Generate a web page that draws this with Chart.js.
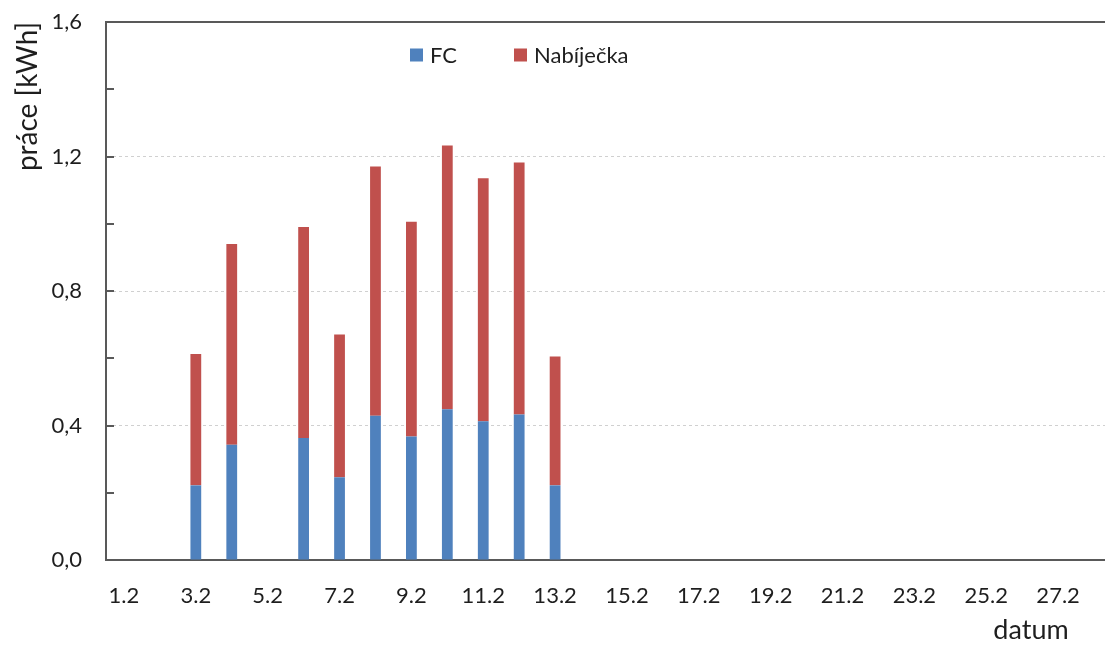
<!DOCTYPE html>
<html lang="cs">
<head>
<meta charset="utf-8">
<title>Práce FC a nabíječky</title>
<script src="https://cdn.jsdelivr.net/npm/chart.js@4.4.1/dist/chart.umd.min.js"></script>
<style>
  html, body { margin: 0; padding: 0; background: #ffffff; overflow: hidden; }
  #wrap { width: 1120px; height: 646px; }
</style>
</head>
<body>
<div id="wrap"><canvas id="c" width="1120" height="646"></canvas></div>
<script>
// Days of February
const categories = ['1.2','2.2','3.2','4.2','5.2','6.2','7.2','8.2','9.2','10.2','11.2','12.2','13.2','14.2',
  '15.2','16.2','17.2','18.2','19.2','20.2','21.2','22.2','23.2','24.2','25.2','26.2','27.2','28.2'];

// Work per day [kWh]
const fcValues = [null, null, 0.222, 0.343, null, 0.363, 0.246, 0.429, 0.367, 0.448, 0.413, 0.433, 0.222, null,
  null, null, null, null, null, null, null, null, null, null, null, null, null, null];
const nabijeckaValues = [null, null, 0.391, 0.597, null, 0.627, 0.425, 0.741, 0.639, 0.785, 0.722, 0.749, 0.383, null,
  null, null, null, null, null, null, null, null, null, null, null, null, null, null];

// Axis settings
const yMax = 1.6;
const yStep = 0.2;
const yLabelStep = 0.4;

const seriesNames = ['FC', 'Nabíječka'];
const seriesColors = ['#4f81bd', '#c0504d'];

const FONT = 'Lato, "Open Sans", sans-serif';
const TEXT = '#1e1e1e';
const AXIS = '#595959';

function isLabelValue(v) {
  const k = Math.round(v / yLabelStep * 1000) / 1000;
  return Math.abs(k - Math.round(k)) < 1e-6;
}

// Frame line on top, inward ticks on the value axis, legend and x-axis caption
const decorations = {
  id: 'decorations',
  afterDraw(chart) {
    const {ctx, chartArea} = chart;
    const y = chart.scales.y;
    ctx.save();
    ctx.strokeStyle = AXIS;
    ctx.lineWidth = 2;
    ctx.beginPath();
    ctx.moveTo(chartArea.left - 1, chartArea.top);
    ctx.lineTo(chartArea.right, chartArea.top);
    ctx.stroke();

    y.ticks.forEach(t => {
      const py = Math.round(y.getPixelForValue(t.value));
      if (t.value <= 0) return;
      ctx.beginPath();
      ctx.moveTo(chartArea.left, py);
      ctx.lineTo(chartArea.left + 8, py);
      ctx.stroke();
    });

    // legend
    const legendX = [410, 514];
    const legendY = 55;
    ctx.font = '22px ' + FONT;
    ctx.textBaseline = 'middle';
    ctx.textAlign = 'left';
    chart.data.datasets.forEach((ds, i) => {
      ctx.fillStyle = ds.backgroundColor;
      ctx.fillRect(legendX[i], legendY - 6.5, 13, 13);
      ctx.fillStyle = TEXT;
      ctx.fillText(ds.label, legendX[i] + 20, legendY + 1);
    });

    // x-axis caption
    ctx.font = '27px ' + FONT;
    ctx.textAlign = 'center';
    ctx.textBaseline = 'alphabetic';
    ctx.fillStyle = TEXT;
    ctx.fillText('datum', 1031, 639);
    ctx.restore();
  }
};

new Chart(document.getElementById('c'), {
  type: 'bar',
  data: {
    labels: categories,
    datasets: [
      { label: seriesNames[0], data: fcValues, backgroundColor: seriesColors[0] },
      { label: seriesNames[1], data: nabijeckaValues, backgroundColor: seriesColors[1] }
    ]
  },
  options: {
    responsive: false,
    animation: false,
    devicePixelRatio: 1,
    layout: { padding: { top: 22, right: 8, left: 0, bottom: 0 } },
    datasets: { bar: { categoryPercentage: 1.0, barPercentage: 0.3 } },
    plugins: { legend: { display: false }, tooltip: { enabled: false } },
    scales: {
      x: {
        stacked: true,
        grid: { display: false, drawTicks: false },
        border: { display: true, color: AXIS, width: 2 },
        ticks: {
          autoSkip: false, maxRotation: 0, padding: 23,
          color: TEXT, font: { family: FONT, size: 22 },
          callback: (v, i) => (i % 2 === 0 ? categories[i] : '')
        },
        afterFit: s => { s.height = 86; s.paddingLeft = 0; s.paddingRight = 0; }
      },
      y: {
        stacked: true,
        min: 0, max: yMax,
        grid: {
          drawTicks: false,
          lineWidth: 1,
          color: ctx => {
            const v = ctx.tick ? ctx.tick.value : 0;
            return (v > 0 && v < yMax - 1e-6 && isLabelValue(v)) ? '#d0d0d0' : 'rgba(0,0,0,0)';
          }
        },
        border: { display: true, color: AXIS, width: 2, dash: [3, 3] },
        ticks: {
          stepSize: yStep, padding: 24,
          color: TEXT, font: { family: FONT, size: 22 },
          callback: v => (isLabelValue(v) ? v.toFixed(1).replace('.', ',') : '')
        },
        title: {
          display: true, text: 'práce [kWh]', align: 'end',
          color: TEXT, font: { family: FONT, size: 28 },
          padding: { top: 11, bottom: 0 }
        },
        afterFit: s => { s.width = 106; s.paddingTop = 0; s.paddingBottom = 0; }
      }
    }
  },
  plugins: [decorations]
});
</script>
</body>
</html>
